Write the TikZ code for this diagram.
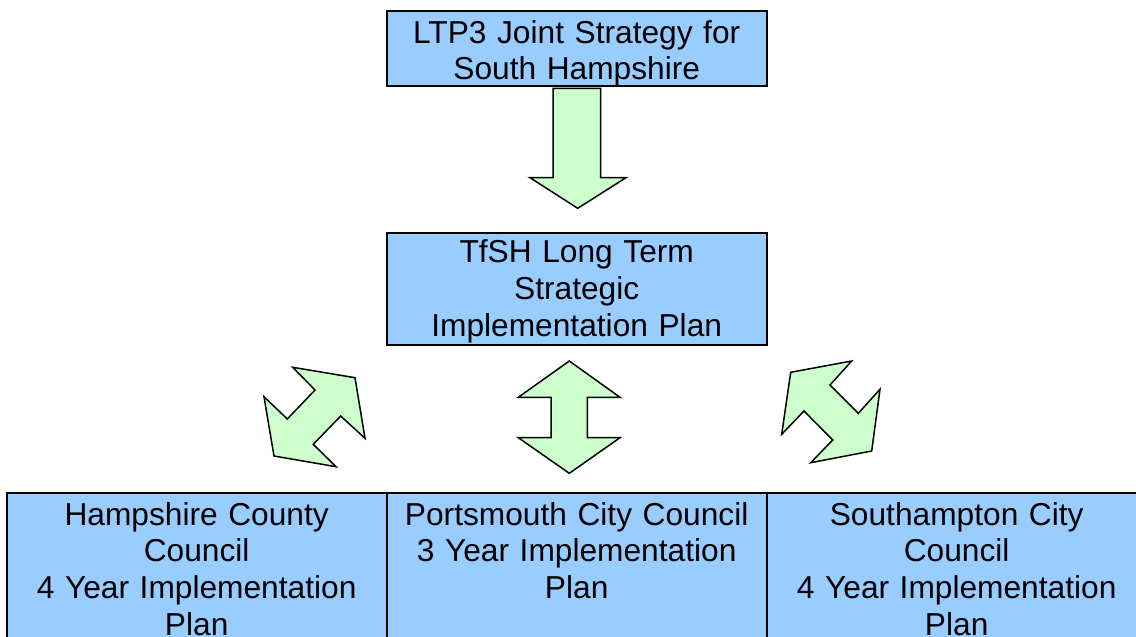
\documentclass[tikz,border=0pt]{standalone}
\usepackage{fontspec}
\setmainfont{Liberation Sans}
\usetikzlibrary{positioning}
\definecolor{planblue}{HTML}{99CCFF}
\definecolor{arrowgreen}{HTML}{CCFFCC}
\tikzset{plan node/.style={rectangle,fill=planblue,draw,line width=2pt,outer sep=0pt,
            inner xsep=5pt,inner ysep=0pt,text width=370pt,align=center,
            font=\fontsize{31.7}{36.85}\selectfont},
         block arrow/.style={fill=arrowgreen,draw,line width=1.5pt,line join=miter},
            }

\begin{document}
\begin{tikzpicture}[x=1pt,y=-1pt]
    \clip (0,0) rectangle (1136,637);

    \node[plan node,text height=32.3pt,text depth=43.3pt] (ltp) at (576.7,48.5)
        {LTP3 Joint Strategy for\\South Hampshire};
    \node[plan node,text height=29.6pt,text depth=82.7pt] (tfsh) [below = 146.4pt of ltp]
        {TfSH Long Term\\Strategic\\Implementation Plan};
    \node[plan node,text height=32.3pt,text depth=137.7pt] (pcc) [below = 147.7pt of tfsh]
        {Portsmouth City Council\\3 Year Implementation\\Plan};
    \node[plan node,text height=32.3pt,text depth=137.7pt] (hcc) [left = 0pt of pcc]
        {Hampshire County\\Council\\4 Year Implementation\\Plan};
    \node[plan node,text height=32.3pt,text depth=137.7pt] (scc) [right = 0pt of pcc]
        {Southampton City\\Council\\4 Year Implementation\\Plan};

    % down arrow under the joint strategy
    \draw[block arrow] (553,88.3) -- (600.7,88.3) -- (600.7,177.7) -- (626,177.7)
        -- (577.7,208.3) -- (530,177.7) -- (553,177.7) -- cycle;

    % two-way arrows to the three councils
    \draw[block arrow] (292.7,367.3) -- (355,377.7) -- (365,438.3) -- (340.7,416)
        -- (313.3,444.3) -- (336,466.7) -- (274,456) -- (264,396.7) -- (287.3,419)
        -- (315,390) -- cycle;
    \draw[block arrow] (569.3,361) -- (620,397.3) -- (587.3,397.3) -- (587.3,437.7)
        -- (620,437.7) -- (569.3,473.3) -- (518.3,437.7) -- (551,437.7)
        -- (551,397.3) -- (518.3,397.3) -- cycle;
    \draw[block arrow] (790.7,372.3) -- (851.7,361) -- (830,385) -- (858.3,413.3)
        -- (880,389.3) -- (871.7,451) -- (810.7,462.7) -- (832.7,440) -- (804,411)
        -- (781.7,434.3) -- cycle;
\end{tikzpicture}
\end{document}
